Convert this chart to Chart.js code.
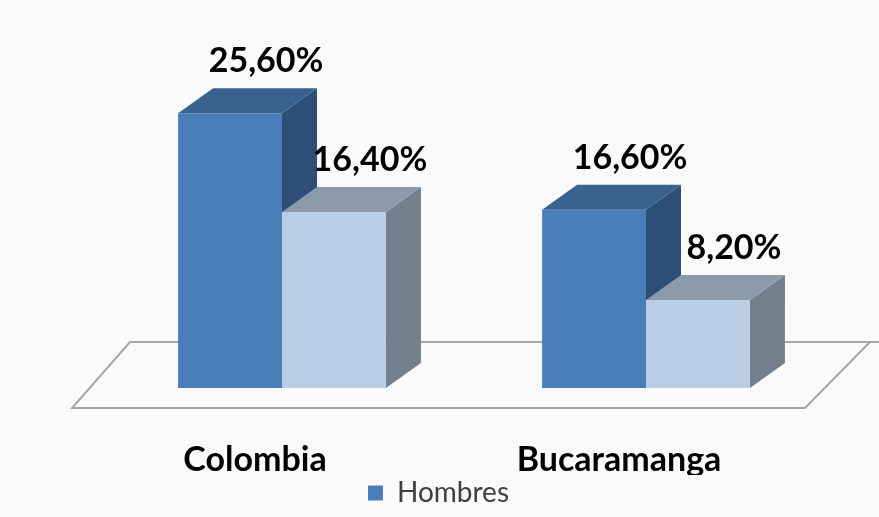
<!DOCTYPE html>
<html>
<head>
<meta charset="utf-8">
<script src="https://cdn.jsdelivr.net/npm/chart.js@4"></script>
<style>
  html, body { margin: 0; padding: 0; background: #fafafa; }
  #wrap { width: 879px; height: 517px; }
</style>
</head>
<body>
<div id="wrap"><canvas id="chart" width="879" height="517"></canvas></div>
<script>
const categories = ["Colombia", "Bucaramanga"];
const hombres = [25.6, 16.6];
const mujeres = [16.4, 8.2];

const FONT = "Lato, 'Open Sans', sans-serif";
const DEPTH_X = 35; // 3d depth of each bar
const DEPTH_Y = -25;

// front / top / side colours per dataset
const faces = [
  { front: "#4a7ebb", top: "#39628f", side: "#2d4e76" },
  { front: "#b9cde5", top: "#8c9bab", side: "#737f8c" },
];

function fmt(v) {
  return v.toFixed(2).replace(".", ",") + "%";
}

function poly(ctx, pts, color) {
  ctx.beginPath();
  ctx.moveTo(pts[0][0], pts[0][1]);
  for (let i = 1; i < pts.length; i++) ctx.lineTo(pts[i][0], pts[i][1]);
  ctx.closePath();
  ctx.fillStyle = color;
  ctx.fill();
}

// floor plate plus top and side faces, drawn before the bar fronts
const box3d = {
  id: "box3d",
  beforeDatasetsDraw(chart) {
    const ctx = chart.ctx;
    const base = chart.scales.y.getPixelForValue(0);
    const area = chart.chartArea;

    ctx.save();
    const floor = [
      [area.left - 28, base + 20],
      [area.right - 23, base + 20],
      [area.right + 42, base - 46],
      [area.left + 30, base - 46],
    ];
    ctx.beginPath();
    ctx.moveTo(floor[3][0], floor[3][1]);
    ctx.lineTo(chart.width + 5, floor[3][1]);
    ctx.lineWidth = 2;
    ctx.strokeStyle = "#a6a6a6";
    ctx.stroke();
    ctx.beginPath();
    ctx.moveTo(floor[0][0], floor[0][1]);
    floor.slice(1).forEach((p) => ctx.lineTo(p[0], p[1]));
    ctx.closePath();
    ctx.fillStyle = "#fafafa";
    ctx.fill();
    ctx.stroke();

    const bars = [];
    chart.data.datasets.forEach((ds, di) => {
      chart.getDatasetMeta(di).data.forEach((el) => bars.push({ el, di }));
    });
    bars.sort((a, b) => a.el.x - b.el.x);
    bars.forEach(({ el, di }) => {
      const l = el.x - el.width / 2;
      const r = el.x + el.width / 2;
      const t = el.y;
      const b = el.base;
      poly(ctx, [[r, t], [r + DEPTH_X, t + DEPTH_Y], [r + DEPTH_X, b + DEPTH_Y], [r, b]], faces[di].side);
      poly(ctx, [[l, t], [r, t], [r + DEPTH_X, t + DEPTH_Y], [l + DEPTH_X, t + DEPTH_Y]], faces[di].top);
    });
    ctx.restore();
  },
  afterDatasetsDraw(chart) {
    const ctx = chart.ctx;
    ctx.save();
    ctx.font = "bold 34px " + FONT;
    ctx.fillStyle = "#000";
    ctx.textAlign = "center";
    ctx.textBaseline = "middle";
    chart.data.datasets.forEach((ds, di) => {
      chart.getDatasetMeta(di).data.forEach((el, i) => {
        ctx.fillText(fmt(ds.data[i]), el.x + 36, el.y - 52);
      });
    });
    ctx.restore();
  },
};

new Chart(document.getElementById("chart"), {
  type: "bar",
  data: {
    labels: categories,
    datasets: [
      {
        label: "Hombres",
        data: hombres,
        backgroundColor: faces[0].front,
        categoryPercentage: 0.571,
        barPercentage: 1,
      },
      {
        label: "Mujeres",
        data: mujeres,
        backgroundColor: faces[1].front,
        categoryPercentage: 0.571,
        barPercentage: 1,
      },
    ],
  },
  options: {
    responsive: false,
    animation: false,
    layout: { padding: { left: 49, right: 51, top: 66, bottom: 0 } },
    plugins: {
      tooltip: { enabled: false },
      legend: {
        position: "bottom",
        labels: {
          filter: (item) => item.datasetIndex === 0,
          boxWidth: 15,
          boxHeight: 15,
          padding: 4,
          color: "#404040",
          font: { family: FONT, size: 28 },
        },
      },
    },
    scales: {
      y: {
        min: 0,
        max: 30,
        grid: { display: false },
        border: { display: false },
        ticks: { display: false },
        afterFit: (scale) => {
          scale.width = 51;
        },
      },
      x: {
        grid: { display: false, drawTicks: false },
        border: { display: false },
        afterFit: (scale) => {
          scale.height = 87;
        },
        ticks: {
          padding: 52,
          labelOffset: -27,
          maxRotation: 0,
          minRotation: 0,
          color: "#000",
          font: { family: FONT, size: 34, weight: "bold" },
        },
      },
    },
  },
  plugins: [box3d],
});
</script>
</body>
</html>
